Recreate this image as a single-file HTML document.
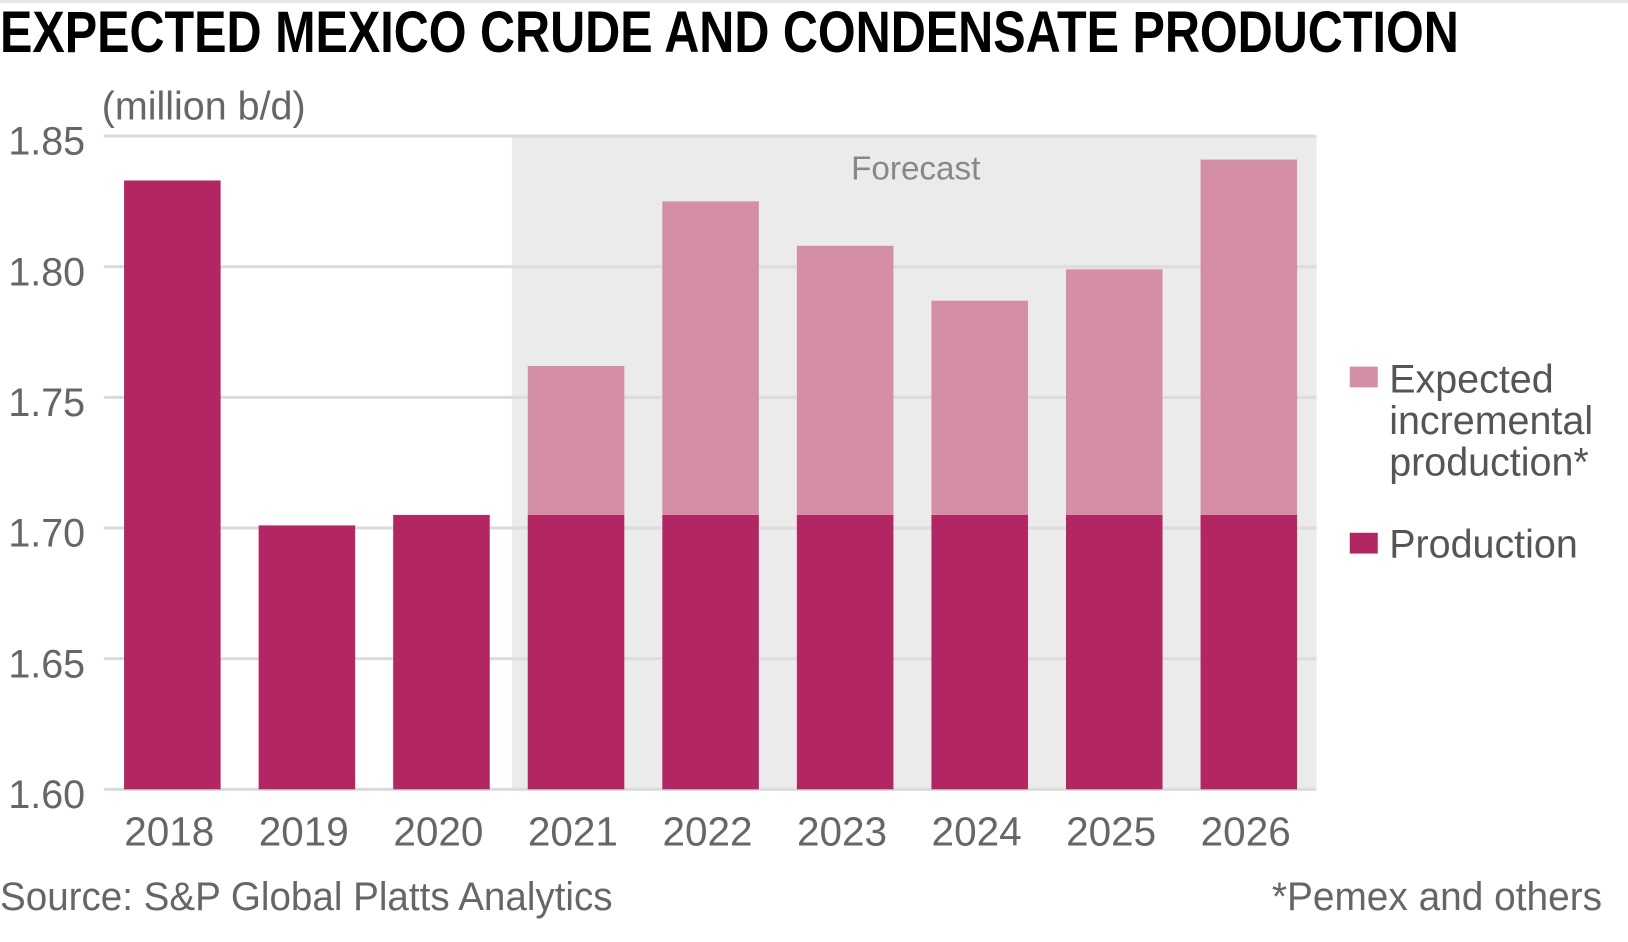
<!DOCTYPE html>
<html><head><meta charset="utf-8"><style>
html,body{margin:0;padding:0;background:#fff;}
svg{display:block;font-family:"Liberation Sans Narrow","Liberation Sans",sans-serif;}
</style></head><body>
<svg id="chart" width="1628" height="942" viewBox="0 0 1568 907" preserveAspectRatio="none" xmlns="http://www.w3.org/2000/svg">
<rect x="0" y="0" width="1568" height="3" fill="#e6e6e6"/>
<text x="0" y="50" font-size="56" font-weight="bold" fill="#000" textLength="1405" lengthAdjust="spacingAndGlyphs">EXPECTED MEXICO CRUDE AND CONDENSATE PRODUCTION</text>
<text x="98" y="115" font-size="38" fill="#666">(million b/d)</text>
<rect x="493" y="131" width="775" height="629" fill="#ebebeb"/>
<text x="882" y="173" font-size="32" fill="#888" text-anchor="middle">Forecast</text>
<g id="grid"></g>
<g id="bars"></g>
<g id="xlabels"></g>
<rect x="1300" y="353" width="27" height="20" fill="#d48fa6"/>
<text x="1338" y="378" font-size="38" fill="#555">Expected</text>
<text x="1338" y="418" font-size="38" fill="#555">incremental</text>
<text x="1338" y="458" font-size="38" fill="#555">production*</text>
<rect x="1300" y="513" width="27" height="20" fill="#b22663"/>
<text x="1338" y="537" font-size="38" fill="#555">Production</text>
<text x="0" y="876" font-size="38" fill="#666" textLength="590" lengthAdjust="spacingAndGlyphs">Source: S&amp;P Global Platts Analytics</text>
<text x="1225" y="876" font-size="38" fill="#666" textLength="318" lengthAdjust="spacingAndGlyphs">*Pemex and others</text>
</svg>
<script>
const categories=["2018","2019","2020","2021","2022","2023","2024","2025","2026"];
const production=[1.833,1.701,1.705,1.705,1.705,1.705,1.705,1.705,1.705];
const incremental=[0,0,0,0.057,0.120,0.103,0.082,0.094,0.136];
const yTicks=[1.60,1.65,1.70,1.75,1.80,1.85];
const yTickLabels=["1.60","1.65","1.70","1.75","1.80","1.85"];
const NS="http://www.w3.org/2000/svg";
const y=v=>760-(v-1.60)/0.25*629;
const x=i=>166+i*129.6;
const bw=93;
const grid=document.getElementById('grid'),bars=document.getElementById('bars'),xl=document.getElementById('xlabels');
yTicks.forEach((t,i)=>{
 const l=document.createElementNS(NS,'rect');
 l.setAttribute('x',100);l.setAttribute('y',y(t)-1.5);l.setAttribute('width',1168);l.setAttribute('height',3);l.setAttribute('fill','#dcdcdc');
 
 
 grid.appendChild(l);
 const tx=document.createElementNS(NS,'text');
 tx.setAttribute('x',82);tx.setAttribute('y',y(t)+18);tx.setAttribute('font-size',38);tx.setAttribute('fill','#666');tx.setAttribute('text-anchor','end');
 tx.textContent=yTickLabels[i];
 
 
 grid.appendChild(tx);
});
categories.forEach((c,i)=>{
 const p=document.createElementNS(NS,'rect');
 p.setAttribute('x',x(i)-bw/2);p.setAttribute('y',y(production[i]));p.setAttribute('width',bw);p.setAttribute('height',y(1.60)-y(production[i]));p.setAttribute('fill','#b22663');
 
 
 bars.appendChild(p);
 if(incremental[i]>0){
  const q=document.createElementNS(NS,'rect');
  const top=production[i]+incremental[i];
  q.setAttribute('x',x(i)-bw/2);q.setAttribute('y',y(top));q.setAttribute('width',bw);q.setAttribute('height',y(production[i])-y(top));q.setAttribute('fill','#d48fa6');
  
  
  bars.appendChild(q);
 }
 const t=document.createElementNS(NS,'text');
 t.setAttribute('x',x(i)-3);t.setAttribute('y',814);t.setAttribute('font-size',39);t.setAttribute('fill','#666');t.setAttribute('text-anchor','middle');
 t.textContent=c;
 
 
 xl.appendChild(t);
});
</script>
</body></html>
